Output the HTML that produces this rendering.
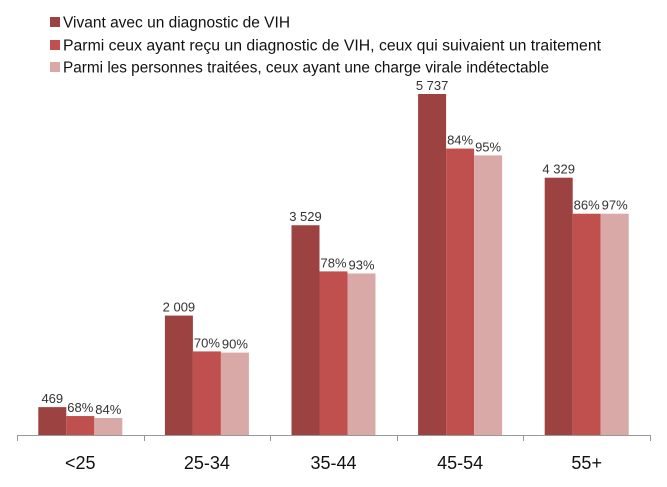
<!DOCTYPE html>
<html><head><meta charset="utf-8"><style>
body{margin:0;background:#fff;font-family:"Liberation Sans",sans-serif;}
svg{display:block}
</style></head><body>
<svg id="chart" width="667" height="487" viewBox="0 0 667 487" xmlns="http://www.w3.org/2000/svg">
<g id="legend"></g>
<g id="bars"></g>
<g id="axis"></g>
</svg>
<script>
const categories = ["<25","25-34","35-44","45-54","55+"];
const diagnosed = [469,2009,3529,5737,4329];
const diagnosedLabels = ["469","2 009","3 529","5 737","4 329"];
const treatedPct = [68,70,78,84,86];
const undetectablePct = [84,90,93,95,97];
// light bar heights as share of diagnosed, as drawn in the picture
const undetectableBarShare = [0.61,0.69,0.77,0.82,0.86];
const legendLabels = ["Vivant avec un diagnostic de VIH","Parmi ceux ayant reçu un diagnostic de VIH, ceux qui suivaient un traitement","Parmi les personnes traitées, ceux ayant une charge virale indétectable"];
const legendWidths = [227,538,486];
const colors = ["#9c4240","#c0504d","#d9a9a8"];

const NS="http://www.w3.org/2000/svg";
const x0=17,x1=650,base=435,scale=341/5737;
const catW=(x1-x0)/categories.length, barW=28;
function y(v){return base - v*scale;}
function xc(i){return x0+catW*(i+0.5);}
function mk(tag,attrs,parent){const e=document.createElementNS(NS,tag);for(const k in attrs)e.setAttribute(k,attrs[k]);parent.appendChild(e);return e;}

const lg=document.getElementById('legend');
legendLabels.forEach((t,i)=>{
  const cy=[22,45,67][i];
  const r=mk('rect',{x:50,y:cy-5,width:10,height:10,fill:colors[i]},lg);
  
  
  const tx=mk('text',{x:63,y:cy+5.5,'font-size':15.5,fill:'#111',textLength:legendWidths[i],lengthAdjust:'spacingAndGlyphs'},lg);
  tx.textContent=t;
  
  
});

const bg=document.getElementById('bars');
categories.forEach((c,i)=>{
  const vals=[diagnosed[i], diagnosed[i]*treatedPct[i]/100, diagnosed[i]*undetectableBarShare[i]];
  const labs=[diagnosedLabels[i], treatedPct[i]+"%", undetectablePct[i]+"%"];
  vals.forEach((v,j)=>{
    const bx=xc(i)-1.5*barW+j*barW;
    const r=mk('rect',{x:bx,y:y(v),width:barW,height:base-y(v),fill:colors[j]},bg);
    
    
    const t=mk('text',{x:bx+barW/2,y:y(v)-4,'font-size':13,fill:'#333','text-anchor':'middle'},bg);
    t.textContent=labs[j];
    
    
  });
});

const ax=document.getElementById('axis');
mk('line',{x1:x0,y1:base+0.5,x2:x1,y2:base+0.5,stroke:'#999','stroke-width':1},ax);
for(let i=0;i<=categories.length;i++){
  const tx=Math.round(x0+catW*i)+0.5;
  mk('line',{x1:tx,y1:base,x2:tx,y2:base+6,stroke:'#999','stroke-width':1},ax);
}
categories.forEach((c,i)=>{
  const t=mk('text',{x:xc(i),y:469,'font-size':18,fill:'#111','text-anchor':'middle'},ax);
  t.textContent=c;
  
  
});
</script>
</body></html>
